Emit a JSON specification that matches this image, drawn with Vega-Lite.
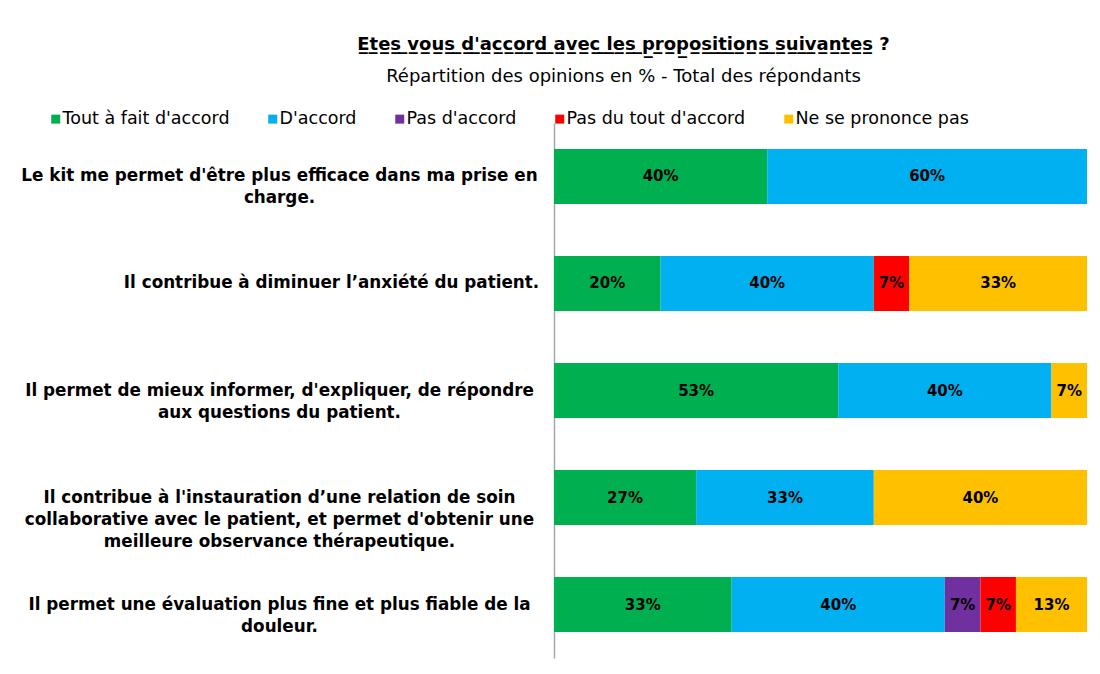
{
  "$schema": "https://vega.github.io/schema/vega-lite/v6.json",
  "autosize": {"type": "none"},
  "width": 533,
  "height": 535,
  "padding": {"left": 554, "top": 123, "right": 13, "bottom": 16},
  "background": "white",
  "title": {
    "text": "E\u0332t\u0332e\u0332s\u0332 \u0332v\u0332o\u0332u\u0332s\u0332 \u0332d\u0332'\u0332a\u0332c\u0332c\u0332o\u0332r\u0332d\u0332 \u0332a\u0332v\u0332e\u0332c\u0332 \u0332l\u0332e\u0332s\u0332 \u0332p\u0332r\u0332o\u0332p\u0332o\u0332s\u0332i\u0332t\u0332i\u0332o\u0332n\u0332s\u0332 \u0332s\u0332u\u0332i\u0332v\u0332a\u0332n\u0332t\u0332e\u0332s\u0332 ?",
    "subtitle": "Répartition des opinions en % - Total des répondants",
    "anchor": "middle",
    "dx": -197,
    "offset": 24,
    "font": "DejaVu Sans",
    "fontSize": 18,
    "fontWeight": "bold",
    "color": "black",
    "subtitleFont": "DejaVu Sans",
    "subtitleFontSize": 18,
    "subtitleFontWeight": "normal",
    "subtitleColor": "black",
    "subtitlePadding": 14
  },
  "config": {"view": {"stroke": null}},
  "data": {
    "values": [
      {"q": "Le kit me permet d'être plus efficace dans ma prise en\ncharge.", "cat": "Tout à fait d'accord", "k": 1, "v": 0.4},
      {"q": "Le kit me permet d'être plus efficace dans ma prise en\ncharge.", "cat": "D'accord", "k": 2, "v": 0.6},
      {"q": "Il contribue à diminuer l’anxiété du patient.", "cat": "Tout à fait d'accord", "k": 1, "v": 0.2},
      {"q": "Il contribue à diminuer l’anxiété du patient.", "cat": "D'accord", "k": 2, "v": 0.4},
      {"q": "Il contribue à diminuer l’anxiété du patient.", "cat": "Pas du tout d'accord", "k": 4, "v": 0.0667},
      {"q": "Il contribue à diminuer l’anxiété du patient.", "cat": "Ne se prononce pas", "k": 5, "v": 0.3333},
      {"q": "Il permet de mieux informer, d'expliquer, de répondre\naux questions du patient.", "cat": "Tout à fait d'accord", "k": 1, "v": 0.5333},
      {"q": "Il permet de mieux informer, d'expliquer, de répondre\naux questions du patient.", "cat": "D'accord", "k": 2, "v": 0.4},
      {"q": "Il permet de mieux informer, d'expliquer, de répondre\naux questions du patient.", "cat": "Ne se prononce pas", "k": 5, "v": 0.0667},
      {"q": "Il contribue à l'instauration d’une relation de soin\ncollaborative avec le patient, et permet d'obtenir une\nmeilleure observance thérapeutique.", "cat": "Tout à fait d'accord", "k": 1, "v": 0.2667},
      {"q": "Il contribue à l'instauration d’une relation de soin\ncollaborative avec le patient, et permet d'obtenir une\nmeilleure observance thérapeutique.", "cat": "D'accord", "k": 2, "v": 0.3333},
      {"q": "Il contribue à l'instauration d’une relation de soin\ncollaborative avec le patient, et permet d'obtenir une\nmeilleure observance thérapeutique.", "cat": "Ne se prononce pas", "k": 5, "v": 0.4},
      {"q": "Il permet une évaluation plus fine et plus fiable de la\ndouleur.", "cat": "Tout à fait d'accord", "k": 1, "v": 0.3333},
      {"q": "Il permet une évaluation plus fine et plus fiable de la\ndouleur.", "cat": "D'accord", "k": 2, "v": 0.4},
      {"q": "Il permet une évaluation plus fine et plus fiable de la\ndouleur.", "cat": "Pas d'accord", "k": 3, "v": 0.0667},
      {"q": "Il permet une évaluation plus fine et plus fiable de la\ndouleur.", "cat": "Pas du tout d'accord", "k": 4, "v": 0.0667},
      {"q": "Il permet une évaluation plus fine et plus fiable de la\ndouleur.", "cat": "Ne se prononce pas", "k": 5, "v": 0.1333}
    ]
  },
  "transform": [
    {"stack": "v", "groupby": ["q"], "sort": [{"field": "k"}], "as": ["x0", "x1"]},
    {"calculate": "(datum.x0 + datum.x1) / 2", "as": "mid"}
  ],
  "encoding": {
    "y": {
      "field": "q",
      "type": "nominal",
      "sort": null,
      "scale": {"paddingInner": 0.487, "paddingOuter": 0.243},
      "axis": {
        "title": null,
        "ticks": false,
        "domain": true,
        "domainColor": "#A6A6A6",
        "domainWidth": 1.5,
        "labelExpr": "split(datum.value, '\\n')",
        "labelFont": "DejaVu Sans",
        "labelFontSize": 16.8,
        "labelFontWeight": "bold",
        "labelColor": "black",
        "labelLimit": 700,
        "labelLineHeight": 22,
        "labelAlign": "center",
        "labelBaseline": "middle",
        "labelPadding": {"condition": {"test": "indexof(datum.value, 'anxi') >= 0", "value": 223}, "value": 275}
      }
    }
  },
  "layer": [
    {
      "mark": {"type": "bar"},
      "encoding": {
        "x": {"field": "x0", "type": "quantitative", "scale": {"domain": [0, 1], "nice": false}, "axis": null},
        "x2": {"field": "x1"},
        "color": {
          "field": "cat",
          "type": "nominal",
          "scale": {
            "domain": ["Tout à fait d'accord", "D'accord", "Pas d'accord", "Pas du tout d'accord", "Ne se prononce pas"],
            "range": ["#00B050", "#00B0F0", "#7030A0", "#FF0000", "#FFC000"]
          },
          "legend": {
            "title": null,
            "orient": "none",
            "direction": "horizontal",
            "legendX": -507,
            "legendY": -13,
            "padding": 0,
            "symbolType": "square",
            "symbolSize": 81,
            "symbolStrokeWidth": 0,
            "labelFont": "DejaVu Sans",
            "labelFontSize": 17.5,
            "labelColor": "black",
            "labelOffset": -2,
            "labelLimit": 300,
            "columnPadding": 34
          }
        }
      }
    },
    {
      "mark": {"type": "text", "font": "DejaVu Sans", "fontWeight": "bold", "fontSize": 15, "color": "black", "align": "center", "baseline": "middle"},
      "encoding": {
        "x": {"field": "mid", "type": "quantitative"},
        "text": {"field": "v", "type": "quantitative", "format": ".0%"}
      }
    }
  ]
}
